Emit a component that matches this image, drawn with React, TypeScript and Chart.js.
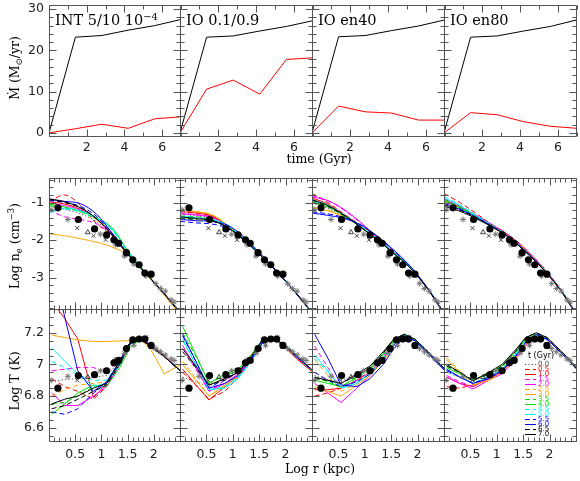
import React, { useEffect, useRef } from "react";
import { Chart, registerables } from "chart.js";

Chart.register(...registerables);

// ---------------- data ----------------
const TIME_GYR = [0, 1.4, 2.8, 4.2, 5.6, 7.0];
const MDOT_TOTAL_INT = [0, 23.2, 23.6, 24.9, 26.0, 27.5];
const MDOT_TOTAL_IO = [0, 23.2, 23.5, 24.7, 25.8, 27.2];
const MDOT_TOTAL_EN40 = [0, 23.3, 23.6, 24.8, 25.9, 27.4];
const MDOT_TOTAL_EN80 = [0, 23.2, 23.5, 24.7, 25.8, 27.4];
const MDOT_COLD_INT = [0, 1.0, 2.1, 1.1, 3.4, 3.9];
const MDOT_COLD_IO = [0, 10.6, 12.8, 9.4, 17.8, 18.2];
const MDOT_COLD_EN40 = [0, 6.5, 5.1, 4.8, 3.1, 3.1];
const MDOT_COLD_EN80 = [0, 4.9, 4.4, 2.7, 1.6, 1.1];

const MDOT_X_TICKS = [2, 4, 6];
const MDOT_Y_TICKS = [0, 10, 20, 30];
const LOGR_TICKS = [0.5, 1, 1.5, 2];
const LOGR_TICK_LABELS = ["0.5", "1", "1.5", "2"];
const NE_TICKS = [-1, -2, -3];
const NE_TICK_LABELS = ["-1", "-2", "-3"];
const T_TICKS = [6.6, 6.8, 7, 7.2];
const T_TICK_LABELS = ["6.6", "6.8", "7", "7.2"];

const EPOCH_LABELS = ["0.0", "0.5", "1.0", "1.5", "2.0", "2.5", "3.0", "3.5", "4.0", "4.5", "5.0", "5.5", "6.0", "6.5", "7.0"];

const LOG_R_NE = [0, 0.3, 0.6, 0.9, 1.2, 1.5, 1.85, 2.2, 2.5];
const LOG_R_T = [0.05, 0.3, 0.55, 0.85, 1.1, 1.35, 1.55, 1.75, 1.95, 2.2, 2.52];

const NE_INT = [
  [-1.10, -1.18, -1.30, -1.50, -1.86, -2.37, -2.89, -3.42, -3.92],
  [-0.98, -0.80, -1.07, -1.55, -1.88, -2.37, -2.88, -3.42, -3.92],
  [-0.98, -1.04, -1.18, -1.44, -1.84, -2.35, -2.87, -3.41, -3.91],
  [-1.20, -1.38, -1.45, -1.56, -1.86, -2.36, -2.88, -3.42, -3.92],
  [-1.02, -1.08, -1.20, -1.42, -1.82, -2.35, -2.88, -3.42, -3.93],
  [-1.06, -1.12, -1.22, -1.44, -1.82, -2.34, -2.88, -3.43, -3.93],
  [-1.83, -1.88, -1.96, -2.05, -2.18, -2.39, -2.90, -3.46, -3.99],
  [-1.08, -1.14, -1.25, -1.44, -1.72, -2.30, -2.87, -3.42, -3.92],
  [-1.05, -1.12, -1.24, -1.40, -1.66, -2.27, -2.87, -3.42, -3.92],
  [-1.22, -1.18, -1.24, -1.42, -1.72, -2.30, -2.88, -3.42, -3.92],
  [-1.28, -1.15, -1.22, -1.40, -1.69, -2.29, -2.88, -3.42, -3.92],
  [-0.95, -1.00, -1.10, -1.36, -1.82, -2.35, -2.88, -3.42, -3.92],
  [-0.92, -0.97, -1.03, -1.30, -1.80, -2.35, -2.88, -3.42, -3.92],
  [-0.92, -1.00, -1.14, -1.42, -1.85, -2.36, -2.88, -3.42, -3.92],
  [-0.90, -0.98, -1.14, -1.42, -1.86, -2.36, -2.88, -3.42, -3.92],
];
const NE_IO = [
  [-1.30, -1.35, -1.42, -1.64, -1.98, -2.37, -2.86, -3.40, -3.92],
  [-1.22, -1.27, -1.35, -1.62, -1.97, -2.36, -2.85, -3.40, -3.92],
  [-1.24, -1.28, -1.36, -1.62, -1.96, -2.35, -2.85, -3.40, -3.92],
  [-1.28, -1.32, -1.38, -1.63, -1.97, -2.36, -2.85, -3.40, -3.92],
  [-1.30, -1.33, -1.40, -1.62, -1.96, -2.36, -2.85, -3.40, -3.92],
  [-1.20, -1.25, -1.33, -1.60, -1.96, -2.35, -2.85, -3.40, -3.92],
  [-1.18, -1.24, -1.32, -1.60, -1.97, -2.36, -2.85, -3.40, -3.92],
  [-1.35, -1.38, -1.44, -1.64, -1.97, -2.36, -2.85, -3.40, -3.92],
  [-1.40, -1.43, -1.48, -1.66, -1.98, -2.37, -2.86, -3.40, -3.92],
  [-1.38, -1.41, -1.46, -1.62, -1.95, -2.35, -2.85, -3.40, -3.92],
  [-1.36, -1.40, -1.44, -1.60, -1.94, -2.35, -2.85, -3.40, -3.92],
  [-1.50, -1.54, -1.57, -1.68, -1.97, -2.36, -2.86, -3.41, -3.93],
  [-1.45, -1.48, -1.50, -1.60, -1.90, -2.32, -2.84, -3.40, -3.92],
  [-1.42, -1.45, -1.49, -1.66, -1.98, -2.37, -2.86, -3.41, -3.93],
  [-1.38, -1.42, -1.47, -1.66, -1.98, -2.37, -2.86, -3.41, -3.93],
];
const NE_EN40 = [
  [-1.02, -1.15, -1.38, -1.62, -1.93, -2.27, -2.70, -3.30, -3.94],
  [-0.76, -1.00, -1.30, -1.58, -1.90, -2.25, -2.69, -3.29, -3.93],
  [-0.88, -1.04, -1.32, -1.60, -1.92, -2.26, -2.70, -3.30, -3.94],
  [-0.82, -0.95, -1.20, -1.52, -1.88, -2.24, -2.69, -3.29, -3.93],
  [-0.85, -0.95, -1.18, -1.50, -1.88, -2.24, -2.69, -3.29, -3.93],
  [-1.12, -1.20, -1.38, -1.60, -1.90, -2.25, -2.70, -3.30, -3.94],
  [-1.15, -1.22, -1.38, -1.60, -1.91, -2.26, -2.70, -3.30, -3.94],
  [-0.98, -1.10, -1.35, -1.62, -1.94, -2.28, -2.71, -3.30, -3.94],
  [-1.00, -1.12, -1.35, -1.63, -1.95, -2.29, -2.72, -3.31, -3.94],
  [-0.93, -1.06, -1.32, -1.60, -1.92, -2.26, -2.70, -3.30, -3.94],
  [-0.95, -1.08, -1.32, -1.61, -1.92, -2.26, -2.70, -3.30, -3.94],
  [-1.25, -1.30, -1.40, -1.58, -1.86, -2.22, -2.68, -3.29, -3.93],
  [-1.28, -1.34, -1.42, -1.58, -1.85, -2.20, -2.67, -3.29, -3.93],
  [-0.94, -1.10, -1.34, -1.63, -1.95, -2.29, -2.72, -3.31, -3.95],
  [-0.92, -1.08, -1.32, -1.63, -1.95, -2.29, -2.72, -3.31, -3.95],
];
const NE_EN80 = [
  [-1.05, -1.20, -1.40, -1.62, -1.88, -2.23, -2.71, -3.30, -3.94],
  [-0.76, -1.00, -1.28, -1.58, -1.84, -2.18, -2.68, -3.28, -3.93],
  [-0.95, -1.12, -1.34, -1.58, -1.84, -2.18, -2.68, -3.28, -3.93],
  [-0.90, -1.10, -1.33, -1.58, -1.85, -2.19, -2.69, -3.29, -3.93],
  [-0.92, -1.10, -1.34, -1.59, -1.86, -2.20, -2.70, -3.29, -3.93],
  [-0.94, -1.12, -1.36, -1.60, -1.87, -2.21, -2.70, -3.29, -3.93],
  [-0.96, -1.14, -1.37, -1.61, -1.88, -2.22, -2.71, -3.30, -3.94],
  [-0.92, -1.12, -1.36, -1.61, -1.88, -2.23, -2.71, -3.30, -3.94],
  [-0.95, -1.14, -1.38, -1.62, -1.89, -2.24, -2.72, -3.30, -3.94],
  [-0.84, -1.06, -1.33, -1.60, -1.88, -2.23, -2.72, -3.30, -3.94],
  [-0.88, -1.08, -1.35, -1.61, -1.89, -2.24, -2.72, -3.30, -3.94],
  [-1.00, -1.16, -1.38, -1.62, -1.89, -2.24, -2.72, -3.31, -3.95],
  [-1.02, -1.18, -1.39, -1.62, -1.89, -2.24, -2.72, -3.31, -3.95],
  [-1.06, -1.20, -1.40, -1.63, -1.90, -2.25, -2.73, -3.31, -3.95],
  [-1.10, -1.23, -1.42, -1.64, -1.90, -2.25, -2.73, -3.31, -3.95],
];

const T_INT = [
  [6.89, 6.905, 6.91, 6.92, 6.93, 7.02, 7.13, 7.16, 7.10, 7.05, 6.955],
  [6.91, 6.86, 6.83, 6.78, 6.86, 7.00, 7.13, 7.17, 7.12, 7.05, 6.955],
  [7.40, 7.29, 7.16, 6.79, 6.88, 7.02, 7.14, 7.16, 7.12, 7.06, 6.955],
  [6.96, 6.97, 6.98, 6.98, 6.95, 7.03, 7.14, 7.165, 7.12, 7.05, 6.955],
  [6.82, 6.74, 6.74, 6.80, 6.86, 7.00, 7.13, 7.16, 7.12, 7.05, 6.955],
  [6.80, 6.84, 6.87, 6.88, 6.89, 7.01, 7.13, 7.16, 7.12, 7.05, 6.955],
  [7.185, 7.17, 7.155, 7.145, 7.145, 7.148, 7.15, 7.16, 7.09, 6.94, 7.00],
  [6.75, 6.76, 6.80, 6.86, 6.88, 7.00, 7.13, 7.16, 7.12, 7.05, 6.955],
  [6.685, 6.75, 6.82, 6.87, 6.86, 6.98, 7.11, 7.16, 7.12, 7.05, 6.955],
  [7.02, 6.98, 6.93, 6.90, 6.90, 7.02, 7.13, 7.16, 7.12, 7.05, 6.955],
  [7.105, 7.02, 6.94, 6.86, 6.88, 7.00, 7.13, 7.16, 7.12, 7.05, 6.955],
  [6.70, 6.685, 6.72, 6.82, 6.88, 7.01, 7.13, 7.16, 7.12, 7.05, 6.955],
  [7.65, 7.30, 6.96, 6.83, 6.89, 7.02, 7.14, 7.165, 7.12, 7.05, 6.955],
  [6.72, 6.74, 6.78, 6.83, 6.87, 7.00, 7.13, 7.16, 7.12, 7.05, 6.955],
  [6.75, 6.78, 6.80, 6.85, 6.88, 7.02, 7.14, 7.16, 7.11, 7.05, 6.955],
];
const T_IO = [
  [6.92, 6.89, 6.86, 6.92, 6.96, 7.05, 7.14, 7.165, 7.125, 7.05, 6.955],
  [6.95, 6.87, 6.78, 6.83, 6.92, 7.03, 7.13, 7.16, 7.12, 7.04, 6.95],
  [6.97, 6.87, 6.775, 6.86, 6.93, 7.03, 7.13, 7.16, 7.12, 7.04, 6.95],
  [7.10, 6.97, 6.83, 6.90, 6.95, 7.04, 7.14, 7.165, 7.125, 7.05, 6.955],
  [7.12, 6.98, 6.83, 6.88, 6.94, 7.04, 7.14, 7.165, 7.125, 7.05, 6.955],
  [7.02, 6.91, 6.80, 6.86, 6.93, 7.03, 7.13, 7.16, 7.12, 7.05, 6.955],
  [7.00, 6.90, 6.80, 6.87, 6.93, 7.03, 7.13, 7.16, 7.12, 7.05, 6.955],
  [7.20, 7.05, 6.88, 6.93, 6.96, 7.05, 7.14, 7.165, 7.13, 7.05, 6.96],
  [7.24, 7.06, 6.88, 6.94, 6.97, 7.06, 7.15, 7.16, 7.13, 7.05, 6.96],
  [7.15, 7.00, 6.84, 6.86, 6.92, 7.02, 7.13, 7.165, 7.125, 7.05, 6.955],
  [7.16, 7.00, 6.84, 6.85, 6.91, 7.02, 7.13, 7.165, 7.125, 7.05, 6.955],
  [7.18, 7.02, 6.85, 6.91, 6.95, 7.04, 7.14, 7.17, 7.13, 7.05, 6.96],
  [7.19, 7.02, 6.85, 6.88, 6.93, 7.03, 7.13, 7.17, 7.13, 7.05, 6.96],
  [7.08, 6.98, 6.87, 6.90, 6.95, 7.05, 7.15, 7.17, 7.13, 7.06, 6.96],
  [7.10, 6.99, 6.87, 6.91, 6.95, 7.05, 7.15, 7.17, 7.13, 7.06, 6.96],
];
const T_EN40 = [
  [6.93, 6.90, 6.90, 6.93, 6.97, 7.05, 7.14, 7.18, 7.15, 7.07, 6.96],
  [6.80, 6.82, 6.85, 6.90, 6.95, 7.04, 7.13, 7.18, 7.15, 7.07, 6.96],
  [6.84, 6.84, 6.85, 6.90, 6.95, 7.04, 7.13, 7.18, 7.15, 7.07, 6.96],
  [7.115, 6.98, 6.85, 6.90, 6.96, 7.05, 7.14, 7.185, 7.15, 7.07, 6.96],
  [6.88, 6.82, 6.76, 6.85, 6.93, 7.03, 7.13, 7.18, 7.15, 7.07, 6.96],
  [7.03, 6.93, 6.83, 6.88, 6.94, 7.03, 7.13, 7.18, 7.15, 7.07, 6.96],
  [6.86, 6.83, 6.80, 6.87, 6.93, 7.02, 7.12, 7.18, 7.15, 7.07, 6.96],
  [6.92, 6.89, 6.86, 6.91, 6.97, 7.06, 7.15, 7.19, 7.15, 7.07, 6.96],
  [6.90, 6.88, 6.86, 6.92, 6.98, 7.07, 7.15, 7.19, 7.16, 7.07, 6.96],
  [7.04, 6.95, 6.85, 6.89, 6.95, 7.04, 7.13, 7.18, 7.15, 7.07, 6.96],
  [7.06, 6.96, 6.85, 6.88, 6.94, 7.04, 7.13, 7.18, 7.15, 7.07, 6.96],
  [6.95, 6.90, 6.86, 6.89, 6.94, 7.03, 7.12, 7.18, 7.15, 7.07, 6.96],
  [7.19, 7.04, 6.87, 6.86, 6.91, 7.00, 7.10, 7.17, 7.15, 7.07, 6.96],
  [6.91, 6.90, 6.88, 6.93, 6.98, 7.07, 7.16, 7.19, 7.16, 7.08, 6.97],
  [6.92, 6.90, 6.88, 6.94, 6.99, 7.08, 7.16, 7.19, 7.16, 7.08, 6.97],
];
const T_EN80 = [
  [6.95, 6.92, 6.90, 6.94, 6.98, 7.07, 7.16, 7.19, 7.16, 7.08, 6.97],
  [6.86, 6.85, 6.87, 6.92, 6.96, 7.04, 7.13, 7.18, 7.16, 7.08, 6.97],
  [6.92, 6.88, 6.86, 6.91, 6.95, 7.04, 7.13, 7.18, 7.16, 7.08, 6.97],
  [6.93, 6.89, 6.86, 6.91, 6.95, 7.04, 7.13, 7.18, 7.16, 7.08, 6.97],
  [6.92, 6.88, 6.845, 6.90, 6.94, 7.03, 7.12, 7.18, 7.16, 7.08, 6.97],
  [7.04, 6.96, 6.87, 6.90, 6.95, 7.04, 7.13, 7.18, 7.16, 7.08, 6.97],
  [7.03, 6.95, 6.87, 6.90, 6.95, 7.04, 7.13, 7.18, 7.16, 7.08, 6.97],
  [6.99, 6.95, 6.90, 6.94, 6.98, 7.07, 7.16, 7.19, 7.16, 7.08, 6.97],
  [6.98, 6.94, 6.90, 6.95, 6.99, 7.08, 7.16, 7.19, 7.16, 7.08, 6.97],
  [6.97, 6.92, 6.88, 6.93, 6.97, 7.06, 7.15, 7.19, 7.16, 7.08, 6.97],
  [6.96, 6.92, 6.88, 6.92, 6.97, 7.06, 7.15, 7.19, 7.16, 7.08, 6.97],
  [6.96, 6.92, 6.88, 6.92, 6.96, 7.05, 7.14, 7.19, 7.16, 7.08, 6.97],
  [6.97, 6.92, 6.88, 6.91, 6.96, 7.05, 7.14, 7.19, 7.16, 7.08, 6.97],
  [6.99, 6.95, 6.90, 6.94, 6.99, 7.08, 7.17, 7.20, 7.17, 7.09, 6.97],
  [7.00, 6.95, 6.895, 6.95, 7.00, 7.09, 7.17, 7.20, 7.17, 7.09, 6.98],
];

// observations (same in every panel)
const OBS_CIRCLE_R = [0.17, 0.56, 0.87, 1.10, 1.24, 1.33, 1.48, 1.60, 1.72, 1.83, 1.95];
const OBS_CIRCLE_NE = [-1.14, -1.45, -1.70, -1.86, -1.99, -2.08, -2.33, -2.52, -2.65, -2.87, -2.90];
const OBS_CIRCLE_T = [6.85, 6.93, 6.935, 6.96, 7.01, 7.025, 7.10, 7.155, 7.16, 7.16, 7.12];
const OBS_STAR_R = [0.04, 0.36, 0.98, 1.27, 1.44, 1.62, 1.85, 2.04, 2.13, 2.22, 2.33, 2.39];
const OBS_STAR_NE = [-1.19, -1.45, -1.84, -2.12, -2.42, -2.63, -2.95, -3.15, -3.28, -3.35, -3.58, -3.64];
const OBS_STAR_T = [6.90, 6.925, 6.96, 7.03, 7.07, 7.12, 7.17, 7.10, 7.08, 7.06, 7.035, 7.025];
const OBS_CROSS_R = [0.54, 0.85, 1.08, 1.45];
const OBS_CROSS_NE = [-1.68, -1.88, -1.99, -2.38];
const OBS_CROSS_T = [6.90, 6.93, 6.96, 7.08];
const OBS_TRI_R = [0.74];
const OBS_TRI_NE = [-1.79];
const OBS_TRI_T = [6.92];

// ---------------- styles / layout ----------------
const EPOCH_COLORS = ["#444444", "#ff0000", "#ff0000", "#ff00ff", "#ff00ff", "#ffa500", "#ffa500", "#00e000", "#00e000", "#00f0f0", "#00f0f0", "#0000ff", "#0000ff", "#000000", "#000000"];
const DASHED = [5, 3];
const DOTTED = [1.2, 2.2];

const COL_X = [49, 180, 312, 444];
const COL_W = [132, 133, 133, 133];
const ROW_Y = [5, 178, 309];
const ROW_H = [132, 132, 133];
const PAD_L = 50, PAD_T = 6, PAD_R = 6, PAD_B = 26;

const MDOT_TOTAL = [MDOT_TOTAL_INT, MDOT_TOTAL_IO, MDOT_TOTAL_EN40, MDOT_TOTAL_EN80];
const MDOT_COLD = [MDOT_COLD_INT, MDOT_COLD_IO, MDOT_COLD_EN40, MDOT_COLD_EN80];
const NE_MODELS = [NE_INT, NE_IO, NE_EN40, NE_EN80];
const T_MODELS = [T_INT, T_IO, T_EN40, T_EN80];

const zip = (xs: number[], ys: number[]) => xs.map((x, i) => ({ x, y: ys[i] }));

const frameTicksPlugin = {
  id: "frameTicks",
  afterDatasetsDraw(chart: any, _args: any, opts: any) {
    const { ctx, chartArea: a } = chart;
    const xs = chart.scales.x;
    const ys = chart.scales.y;
    const L = Math.round(a.left) + 0.5;
    const R = Math.round(a.right) - 0.5;
    const T = Math.round(a.top) + 0.5;
    const B = Math.round(a.bottom) - 0.5;
    ctx.save();
    ctx.setLineDash([]);
    ctx.strokeStyle = "#555";
    ctx.lineWidth = 1;
    ctx.beginPath();
    ctx.rect(L, T, R - L, B - T);
    const each = (min: number, max: number, minor: number, major: number, fn: (v: number, len: number) => void) => {
      const n0 = Math.ceil(min / minor - 1e-6);
      const n1 = Math.floor(max / minor + 1e-6);
      for (let n = n0; n <= n1; n++) {
        const v = n * minor;
        const isMajor = Math.abs(v / major - Math.round(v / major)) < 1e-6;
        fn(v, isMajor ? 7 : 4);
      }
    };
    each(xs.min, xs.max, opts.xMinor, opts.xMajor, (v, len) => {
      const p = Math.round(xs.getPixelForValue(v)) + 0.5;
      ctx.moveTo(p, B);
      ctx.lineTo(p, B - len);
      ctx.moveTo(p, T);
      ctx.lineTo(p, T + len);
    });
    each(ys.min, ys.max, opts.yMinor, opts.yMajor, (v, len) => {
      const p = Math.round(ys.getPixelForValue(v)) + 0.5;
      ctx.moveTo(L, p);
      ctx.lineTo(L + len, p);
      ctx.moveTo(R, p);
      ctx.lineTo(R - len, p);
    });
    ctx.stroke();

    if (opts.legend) {
      const models = chart.data.datasets.filter((d: any) => d.legendLabel);
      ctx.fillStyle = "#000";
      ctx.font = '8px "DejaVu Sans"';
      ctx.textAlign = "center";
      ctx.textBaseline = "middle";
      ctx.fillText("t (Gyr)", a.left + 97, a.top + 47);
      ctx.font = '7px "DejaVu Sans"';
      ctx.textAlign = "left";
      models.forEach((d: any, i: number) => {
        const y = Math.round(a.top + 55 + i * 5) + 0.5;
        ctx.beginPath();
        ctx.strokeStyle = d.borderColor;
        ctx.setLineDash(d.borderDash || []);
        ctx.moveTo(a.left + 81, y);
        ctx.lineTo(a.left + 92, y);
        ctx.stroke();
        ctx.fillStyle = d.borderColor;
        ctx.fillText(d.legendLabel, a.left + 94, y);
      });
    }
    ctx.restore();
  },
};

const AXES = [
  { xMin: 0, xMax: 7, yMin: -1, yMax: 31, xMajor: 2, xMinor: 1, yMajor: 10, yMinor: 2,
    xTicks: MDOT_X_TICKS, xLabels: MDOT_X_TICKS.map(String), yTicks: MDOT_Y_TICKS, yLabels: MDOT_Y_TICKS.map(String), showX: true, xPad: 3 },
  { xMin: 0, xMax: 2.52, yMin: -3.85, yMax: -0.35, xMajor: 0.5, xMinor: 0.1, yMajor: 1, yMinor: 0.2,
    xTicks: LOGR_TICKS, xLabels: LOGR_TICK_LABELS, yTicks: NE_TICKS, yLabels: NE_TICK_LABELS, showX: false, xPad: 3 },
  { xMin: 0, xMax: 2.52, yMin: 6.51, yMax: 7.35, xMajor: 0.5, xMinor: 0.1, yMajor: 0.2, yMinor: 0.05,
    xTicks: LOGR_TICKS, xLabels: LOGR_TICK_LABELS, yTicks: T_TICKS, yLabels: T_TICK_LABELS, showX: true, xPad: 5 },
];

const labelFor = (ticks: number[], labels: string[]) => (value: any) => {
  const i = ticks.findIndex((t) => Math.abs(t - Number(value)) < 1e-9);
  return i >= 0 ? labels[i] : "";
};

function buildConfig(row: number, col: number): any {
  const ax = AXES[row];
  const datasets: any[] = [];
  const base = { pointRadius: 0, pointHoverRadius: 0, borderWidth: 1, fill: false };
  if (row === 0) {
    datasets.push({ ...base, data: zip(TIME_GYR, MDOT_TOTAL[col]), borderColor: "#000", tension: 0 });
    datasets.push({ ...base, data: zip(TIME_GYR, MDOT_COLD[col]), borderColor: "#ff0000", tension: 0 });
  } else {
    const isNe = row === 1;
    const obs = (xs: number[], ys: number[], style: string, r: number, color: string, bg: string, bw: number) => ({
      data: zip(xs, ys), showLine: false, pointStyle: style, pointRadius: r, pointHoverRadius: r,
      pointBackgroundColor: bg, pointBorderColor: color, pointBorderWidth: bw, order: 0,
    });
    datasets.push(obs(OBS_CIRCLE_R, isNe ? OBS_CIRCLE_NE : OBS_CIRCLE_T, "circle", 3.6, "#000", "#000", 0));
    datasets.push(obs(OBS_STAR_R, isNe ? OBS_STAR_NE : OBS_STAR_T, "star", 3, "#777", "rgba(0,0,0,0)", 1));
    datasets.push(obs(OBS_CROSS_R, isNe ? OBS_CROSS_NE : OBS_CROSS_T, "crossRot", 2.8, "#444", "rgba(0,0,0,0)", 1));
    datasets.push(obs(OBS_TRI_R, isNe ? OBS_TRI_NE : OBS_TRI_T, "triangle", 2.8, "#444", "rgba(0,0,0,0)", 1));
    const models = isNe ? NE_MODELS[col] : T_MODELS[col];
    const xs = isNe ? LOG_R_NE : LOG_R_T;
    models.forEach((vals, i) => {
      datasets.push({
        ...base,
        data: zip(xs, vals),
        borderColor: EPOCH_COLORS[i],
        borderDash: i === 0 ? DOTTED : i % 2 === 1 ? DASHED : [],
        tension: isNe ? 0.35 : 0,
        order: 1 + (14 - i),
        legendLabel: EPOCH_LABELS[i],
      });
    });
  }
  const tickFont = { family: "DejaVu Sans", size: 12.5 };
  return {
    type: "line",
    data: { datasets },
    options: {
      responsive: false,
      animation: false,
      devicePixelRatio: 1,
      events: [],
      layout: { padding: { top: PAD_T, right: PAD_R, left: 0, bottom: 0 } },
      plugins: {
        legend: { display: false },
        tooltip: { enabled: false },
        frameTicks: {
          xMajor: ax.xMajor, xMinor: ax.xMinor, yMajor: ax.yMajor, yMinor: ax.yMinor,
          legend: row === 2 && col === 3,
        },
      },
      scales: {
        x: {
          type: "linear", min: ax.xMin, max: ax.xMax, bounds: "data",
          grid: { display: false, drawTicks: false }, border: { display: false },
          ticks: { display: ax.showX, padding: ax.xPad, font: tickFont, color: "#222", autoSkip: false, maxRotation: 0,
            callback: labelFor(ax.xTicks, ax.xLabels) },
          afterBuildTicks: (s: any) => { s.ticks = ax.xTicks.map((v) => ({ value: v })); },
          afterFit: (s: any) => { s.height = PAD_B; s.paddingLeft = 0; s.paddingRight = 0; },
        },
        y: {
          type: "linear", min: ax.yMin, max: ax.yMax, bounds: "data",
          grid: { display: false, drawTicks: false }, border: { display: false },
          ticks: { display: col === 0, padding: 5, font: tickFont, color: "#222", autoSkip: false,
            callback: labelFor(ax.yTicks, ax.yLabels) },
          afterBuildTicks: (s: any) => { s.ticks = ax.yTicks.map((v) => ({ value: v })); },
          afterFit: (s: any) => { s.width = PAD_L; s.paddingTop = 0; s.paddingBottom = 0; },
        },
      },
    },
    plugins: [frameTicksPlugin],
  };
}

function ChartPanel({ row, col }: { row: number; col: number }) {
  const ref = useRef<HTMLCanvasElement>(null);
  const width = PAD_L + COL_W[col] + PAD_R;
  const height = PAD_T + ROW_H[row] + PAD_B;
  useEffect(() => {
    const chart = new Chart(ref.current as HTMLCanvasElement, buildConfig(row, col));
    return () => chart.destroy();
  }, [row, col]);
  return (
    <canvas
      ref={ref}
      width={width}
      height={height}
      style={{ position: "absolute", left: COL_X[col] - PAD_L, top: ROW_Y[row] - PAD_T, width, height }}
    />
  );
}

const serif = '"DejaVu Serif", "Liberation Serif", serif';
const sup = { fontSize: "0.68em", position: "relative" as const, top: "-0.55em" };
const sub = { fontSize: "0.68em", position: "relative" as const, top: "0.3em" };

function Title({ col, children }: { col: number; children: React.ReactNode }) {
  return (
    <div style={{ position: "absolute", left: COL_X[col] + 6, top: 13, fontFamily: serif, fontSize: 14.5, lineHeight: "14px", whiteSpace: "nowrap", color: "#000" }}>
      {children}
    </div>
  );
}

function Label({ x, y, rotate, children }: { x: number; y: number; rotate?: boolean; children: React.ReactNode }) {
  return (
    <div
      style={{
        position: "absolute", left: x, top: y, fontFamily: serif, fontSize: 12.5, lineHeight: "14px",
        whiteSpace: "nowrap", color: "#000",
        transform: rotate ? "translate(-50%,-50%) rotate(-90deg)" : "translate(-50%,-50%)",
      }}
    >
      {children}
    </div>
  );
}

export default function App() {
  const cells: React.ReactNode[] = [];
  for (let r = 0; r < 3; r++) for (let c = 0; c < 4; c++) cells.push(<ChartPanel key={`${r}-${c}`} row={r} col={c} />);
  return (
    <div style={{ position: "fixed", left: 0, top: 0, width: 580, height: 481, background: "#fff", overflow: "hidden" }}>
      {cells}
      <Title col={0}>INT 5/10 10<span style={sup}>{"\u22124"}</span></Title>
      <Title col={1}>IO 0.1/0.9</Title>
      <Title col={2}>IO en40</Title>
      <Title col={3}>IO en80</Title>
      <Label x={319} y={159}>time (Gyr)</Label>
      <Label x={320} y={469}>Log r (kpc)</Label>
      <Label x={15} y={68} rotate>{"\u1E40"} (M<span style={sub}>{"\u2299"}</span>/yr)</Label>
      <Label x={15} y={246} rotate>Log n<span style={sub}>e</span> (cm<span style={sup}>{"\u22123"}</span>)</Label>
      <Label x={15} y={381} rotate>Log T (K)</Label>
    </div>
  );
}
